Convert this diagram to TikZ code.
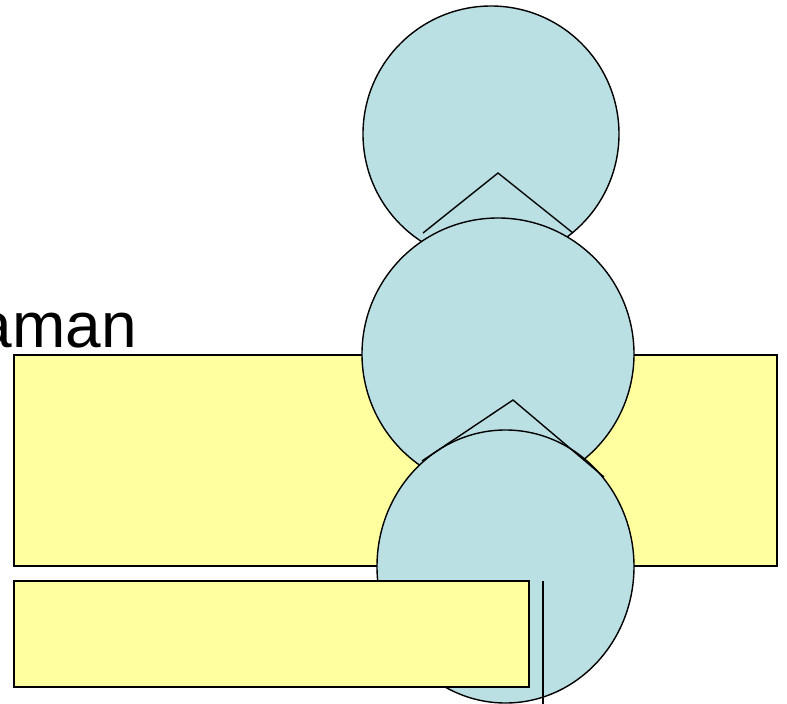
\documentclass[tikz,border=0pt]{standalone}
\usepackage{fontspec}
\setmainfont{Liberation Sans}
\usetikzlibrary{shapes.geometric}
\definecolor{ballfill}{HTML}{BBE0E3}
\definecolor{boxfill}{HTML}{FFFF9F}
\begin{document}
\begin{tikzpicture}[x=1pt,y=-1pt,
  boxshape/.style={draw=black,line width=1.3pt,fill=boxfill,rectangle,inner sep=0pt,outer sep=0pt},
  ballshape/.style={draw=black,line width=1.4pt,fill=ballfill,ellipse,inner sep=0pt,outer sep=0pt},
  strokeline/.style={draw=black,line width=1.4pt}]
\useasboundingbox (0,0) rectangle (787,704);
\clip (0,0) rectangle (787,704);
% title fragment
\node[anchor=base east,inner sep=0pt,font=\fontsize{64pt}{70pt}\selectfont] (title) at (137,347) {aman};
% big yellow box
\node[boxshape,minimum width=763pt,minimum height=211pt] (boxA) at (395.5,460.5) {};
% circles
\node[ballshape,minimum width=256pt,minimum height=256pt] (ballA) at (491,134) {};
\node[ballshape,minimum width=272pt,minimum height=272pt] (ballB) at (498,354) {};
\coordinate (chA1) at (423,233);
\coordinate (chA2) at (498,173);
\coordinate (chA3) at (573,233);
\draw[strokeline] (chA1) -- (chA2) -- (chA3);
\node[ballshape,minimum width=257pt,minimum height=273pt] (ballC) at (505.5,566.5) {};
\coordinate (chB1) at (422,461);
\coordinate (chB2) at (513,400);
\coordinate (chB3) at (604,477);
\draw[strokeline] (chB1) -- (chB2) -- (chB3);
% small yellow box
\node[boxshape,minimum width=515pt,minimum height=106pt] (boxB) at (271.5,634) {};
% vertical line
\coordinate (vtop) at (543,581);
\coordinate (vbot) at (543,706);
\draw[strokeline] (vtop) -- (vbot);
\end{tikzpicture}
\end{document}
